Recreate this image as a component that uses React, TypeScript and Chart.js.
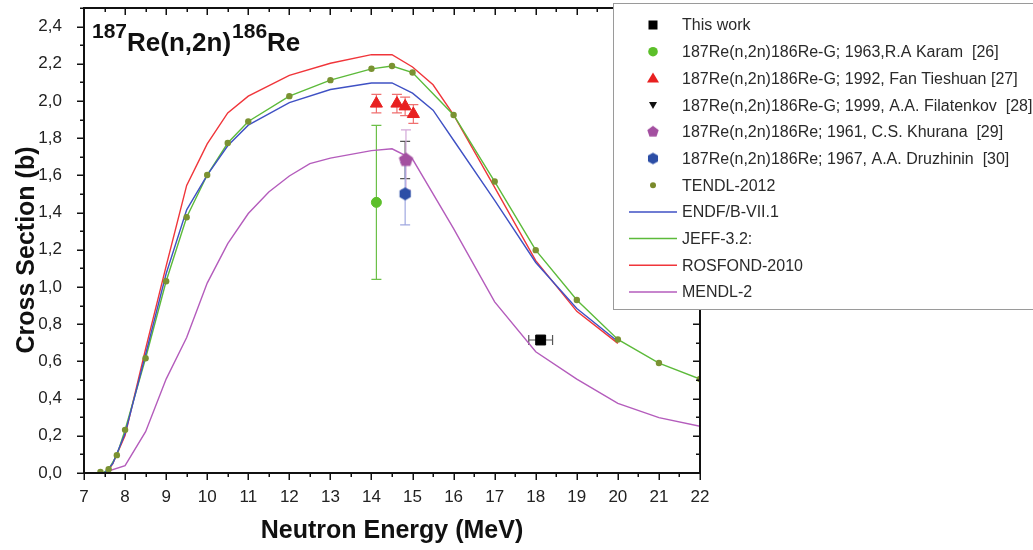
import React, { useEffect, useRef } from 'react';
import { Chart, registerables } from 'chart.js';

Chart.register(...registerables);

const FONT = '"Liberation Sans", Arial, Helvetica, sans-serif';

// ---- tick labels ----
const xTickValues = [7, 8, 9, 10, 11, 12, 13, 14, 15, 16, 17, 18, 19, 20, 21, 22];
const yTickValues = [0, 0.2, 0.4, 0.6, 0.8, 1.0, 1.2, 1.4, 1.6, 1.8, 2.0, 2.2, 2.4];

// ---- experimental data ----
const thisWorkE = [18.12];
const thisWorkXS = [0.715];
const thisWorkDE = [0.29];

const karamE = [14.12];
const karamXS = [1.455];
const karamErr = [0.414];

const fanE = [14.12, 14.62, 14.82, 15.02];
const fanXS = [1.986, 1.986, 1.971, 1.93];
const fanErr = [0.05, 0.05, 0.05, 0.05];

const filatE = [14.82];
const filatXS = [1.683];
const filatErr = [0.1];

const khuranaE = [14.84];
const khuranaXS = [1.683];
const khuranaErr = [0.162];

const druzE = [14.82];
const druzXS = [1.501];
const druzErr = [0.167];

// ---- evaluated libraries ----
const tendlE = [7.4, 7.6, 7.8, 8, 8.5, 9, 9.5, 10, 10.5, 11, 12, 13, 14, 14.5, 15, 16, 17, 18, 19, 20, 21, 22];
const tendlXS = [0.005, 0.02, 0.096, 0.232, 0.617, 1.031, 1.375, 1.602, 1.774, 1.89, 2.026, 2.112, 2.173, 2.188, 2.153, 1.925, 1.567, 1.198, 0.93, 0.718, 0.591, 0.505];

const endfE = [7.5, 7.7, 8, 8.5, 9, 9.5, 10, 10.5, 11, 12, 13, 14, 14.5, 15, 15.5, 16, 17, 18, 19, 20];
const endfXS = [0, 0.05, 0.212, 0.637, 1.071, 1.415, 1.602, 1.759, 1.87, 1.991, 2.062, 2.097, 2.097, 2.042, 1.951, 1.789, 1.466, 1.132, 0.884, 0.707];

const jeffE = [7.45, 7.6, 7.8, 8, 8.5, 9, 9.5, 10, 10.5, 11, 12, 13, 14, 14.5, 15, 16, 17, 18, 19, 20, 21, 22];
const jeffXS = [0, 0.02, 0.096, 0.232, 0.617, 1.031, 1.375, 1.602, 1.774, 1.89, 2.026, 2.112, 2.173, 2.188, 2.153, 1.925, 1.567, 1.198, 0.93, 0.718, 0.591, 0.505];

const rosfondE = [7.55, 7.7, 8, 8.5, 9, 9.5, 10, 10.5, 11, 12, 13, 14, 14.5, 15, 15.5, 16, 17, 18, 19, 20];
const rosfondXS = [0, 0.05, 0.202, 0.667, 1.112, 1.546, 1.769, 1.936, 2.026, 2.138, 2.203, 2.249, 2.249, 2.183, 2.087, 1.925, 1.536, 1.142, 0.869, 0.697];

const mendlE = [7.45, 8, 8.5, 9, 9.5, 10, 10.5, 11, 11.5, 12, 12.5, 13, 14, 14.5, 15, 16, 17, 18, 19, 20, 21, 22];
const mendlXS = [0, 0.04, 0.222, 0.505, 0.728, 1.021, 1.233, 1.395, 1.511, 1.597, 1.663, 1.693, 1.733, 1.743, 1.688, 1.314, 0.92, 0.652, 0.505, 0.374, 0.298, 0.251];

const pts = (xs: number[], ys: number[]) => xs.map((x, i) => ({ x, y: ys[i] }));

function polygonCanvas(sides: number, r: number, color: string) {
  const c = document.createElement('canvas');
  const s = Math.ceil(r * 2 + 2);
  c.width = s;
  c.height = s;
  const g = c.getContext('2d')!;
  g.fillStyle = color;
  g.beginPath();
  for (let i = 0; i < sides; i++) {
    const a = -Math.PI / 2 + (i * 2 * Math.PI) / sides;
    const px = s / 2 + r * Math.cos(a);
    const py = s / 2 + r * Math.sin(a);
    if (i === 0) g.moveTo(px, py);
    else g.lineTo(px, py);
  }
  g.closePath();
  g.fill();
  return c;
}

function drawLegendMarker(ctx: CanvasRenderingContext2D, kind: string, x: number, y: number, color: string, img?: HTMLCanvasElement) {
  ctx.fillStyle = color;
  ctx.strokeStyle = color;
  ctx.beginPath();
  if (kind === 'rect') {
    ctx.fillRect(x - 4.5, y - 4.5, 9, 9);
  } else if (kind === 'circle') {
    ctx.arc(x, y, 4.8, 0, Math.PI * 2);
    ctx.fill();
  } else if (kind === 'dot') {
    ctx.arc(x, y, 3, 0, Math.PI * 2);
    ctx.fill();
  } else if (kind === 'triangle') {
    ctx.moveTo(x, y - 6);
    ctx.lineTo(x + 6, y + 4);
    ctx.lineTo(x - 6, y + 4);
    ctx.closePath();
    ctx.fill();
  } else if (kind === 'invtriangle') {
    ctx.moveTo(x - 4, y - 3);
    ctx.lineTo(x + 4, y - 3);
    ctx.lineTo(x, y + 4);
    ctx.closePath();
    ctx.fill();
  } else if (kind === 'image' && img) {
    ctx.drawImage(img, x - img.width / 2, y - img.height / 2);
  } else if (kind === 'line') {
    ctx.lineWidth = 1.5;
    ctx.moveTo(629, y);
    ctx.lineTo(677, y);
    ctx.stroke();
  }
}

const errorBarPlugin = {
  id: 'errorBars',
  beforeDatasetsDraw(chart: any) {
    const ctx = chart.ctx;
    const xs = chart.scales.x;
    const ys = chart.scales.y;
    ctx.save();
    chart.data.datasets.forEach((ds: any) => {
      if (!ds.yErr && !ds.xErr) return;
      ctx.strokeStyle = ds.errColor;
      ctx.lineWidth = 1.2;
      ds.data.forEach((p: any, j: number) => {
        const px = xs.getPixelForValue(p.x);
        const py = ys.getPixelForValue(p.y);
        const cap = 5;
        if (ds.yErr) {
          const e = ds.yErr[j];
          const y1 = ys.getPixelForValue(p.y - e);
          const y2 = ys.getPixelForValue(p.y + e);
          ctx.beginPath();
          ctx.moveTo(px, y1);
          ctx.lineTo(px, y2);
          ctx.moveTo(px - cap, y1);
          ctx.lineTo(px + cap, y1);
          ctx.moveTo(px - cap, y2);
          ctx.lineTo(px + cap, y2);
          ctx.stroke();
        }
        if (ds.xErr) {
          const e = ds.xErr[j];
          const x1 = xs.getPixelForValue(p.x - e);
          const x2 = xs.getPixelForValue(p.x + e);
          ctx.beginPath();
          ctx.moveTo(x1, py);
          ctx.lineTo(x2, py);
          ctx.moveTo(x1, py - cap);
          ctx.lineTo(x1, py + cap);
          ctx.moveTo(x2, py - cap);
          ctx.lineTo(x2, py + cap);
          ctx.stroke();
        }
      });
    });
    ctx.restore();
  },
};

const framePlugin = {
  id: 'frameTicks',
  afterDatasetsDraw(chart: any) {
    const ctx = chart.ctx;
    const xs = chart.scales.x;
    const ys = chart.scales.y;
    const { left, right, top, bottom } = chart.chartArea;
    ctx.save();
    ctx.strokeStyle = '#111';
    ctx.lineWidth = 1.5;
    ctx.beginPath();
    for (let k = 0; k <= 30; k++) {
      const v = 7 + k * 0.5;
      const px = Math.round(xs.getPixelForValue(v)) + 0.25;
      const L = k % 2 === 0 ? 7 : 4;
      ctx.moveTo(px, bottom);
      ctx.lineTo(px, bottom + L);
      ctx.moveTo(px, top);
      ctx.lineTo(px, top + L);
    }
    for (let k = 0; k <= 25; k++) {
      const v = k * 0.1;
      const py = Math.round(ys.getPixelForValue(v)) + 0.25;
      const L = k % 2 === 0 ? 7 : 4;
      ctx.moveTo(left - L, py);
      ctx.lineTo(left, py);
      ctx.moveTo(right - L, py);
      ctx.lineTo(right, py);
    }
    ctx.stroke();
    ctx.lineWidth = 2;
    ctx.strokeRect(left, top, right - left, bottom - top);
    ctx.restore();
  },
};

const textPlugin = {
  id: 'texts',
  afterDraw(chart: any) {
    const ctx = chart.ctx;
    const { left, right, top } = chart.chartArea;
    ctx.save();
    ctx.fillStyle = '#111';
    // x title
    ctx.font = `bold 25px ${FONT}`;
    ctx.textAlign = 'center';
    ctx.textBaseline = 'middle';
    ctx.fillText('Neutron Energy (MeV)', (left + right) / 2, 531);
    // y title
    ctx.save();
    ctx.translate(27, 250);
    ctx.rotate(-Math.PI / 2);
    ctx.fillText('Cross Section (b)', 0, 0);
    ctx.restore();
    // reaction label
    ctx.textAlign = 'left';
    ctx.textBaseline = 'alphabetic';
    let x = left + 8;
    const parts: [string, boolean][] = [['187', true], ['Re(n,2n)', false], ['186', true], ['Re', false]];
    parts.forEach(([t, sup]) => {
      ctx.font = sup ? `bold 21px ${FONT}` : `bold 26px ${FONT}`;
      ctx.fillText(t, x, sup ? top + 30 : top + 43);
      x += ctx.measureText(t).width + (sup ? 0 : 1);
    });

    // legend box
    const lx = 613.5;
    const ly = 3.5;
    const lb = 309.5;
    ctx.fillStyle = '#ffffff';
    ctx.fillRect(lx, ly, 1040 - lx, lb - ly);
    ctx.strokeStyle = '#9a9a9a';
    ctx.lineWidth = 1;
    ctx.strokeRect(lx, ly, 1040 - lx, lb - ly);
    ctx.font = `16px ${FONT}`;
    ctx.textBaseline = 'middle';
    chart.data.datasets.forEach((ds: any, i: number) => {
      const y = 25 + i * 26.7;
      drawLegendMarker(ctx, ds.legendKind, 653, y, ds.legendColor, ds.legendImg);
      ctx.fillStyle = '#2a2a2a';
      ctx.fillText(ds.label, 682, y + 1);
    });
    ctx.restore();
  },
};

export default function App() {
  const ref = useRef<HTMLCanvasElement | null>(null);

  useEffect(() => {
    if (!ref.current) return;
    const pentagon = polygonCanvas(5, 7.5, '#a34fa0');
    const hexagon = polygonCanvas(6, 6.5, '#2c4ea6');
    const pentagonL = polygonCanvas(5, 6, '#a34fa0');
    const hexagonL = polygonCanvas(6, 5.8, '#2c4ea6');

    const lineDs = (label: string, xs: number[], ys: number[], color: string) => ({
      label,
      data: pts(xs, ys),
      showLine: true,
      borderColor: color,
      backgroundColor: color,
      borderWidth: 1.4,
      pointRadius: 0,
      tension: 0,
      legendKind: 'line',
      legendColor: color,
    });

    const chart = new Chart(ref.current, {
      type: 'scatter',
      data: {
        datasets: [
          {
            label: 'This work',
            data: pts(thisWorkE, thisWorkXS),
            pointStyle: 'rect',
            pointRadius: 7,
            backgroundColor: '#000',
            borderColor: '#000',
            xErr: thisWorkDE,
            errColor: '#555',
            legendKind: 'rect',
            legendColor: '#000',
          } as any,
          {
            label: '187Re(n,2n)186Re-G; 1963,R.A Karam  [26]',
            data: pts(karamE, karamXS),
            pointStyle: 'circle',
            pointRadius: 5,
            backgroundColor: '#5cbf2a',
            borderColor: '#5cbf2a',
            yErr: karamErr,
            errColor: '#6cc048',
            legendKind: 'circle',
            legendColor: '#5cbf2a',
          },
          {
            label: '187Re(n,2n)186Re-G; 1992, Fan Tieshuan [27]',
            data: pts(fanE, fanXS),
            pointStyle: 'triangle',
            pointRadius: 7,
            backgroundColor: '#e82020',
            borderColor: '#e82020',
            yErr: fanErr,
            errColor: '#f07070',
            legendKind: 'triangle',
            legendColor: '#e82020',
          },
          {
            label: '187Re(n,2n)186Re-G; 1999, A.A. Filatenkov  [28]',
            data: pts(filatE, filatXS),
            pointStyle: 'triangle',
            rotation: 180,
            pointRadius: 5,
            backgroundColor: '#111',
            borderColor: '#111',
            yErr: filatErr,
            errColor: '#555',
            legendKind: 'invtriangle',
            legendColor: '#111',
            order: 1,
          },
          {
            label: '187Re(n,2n)186Re; 1961, C.S. Khurana  [29]',
            data: pts(khuranaE, khuranaXS),
            pointStyle: pentagon,
            pointRadius: 7,
            backgroundColor: '#a34fa0',
            borderColor: '#a34fa0',
            yErr: khuranaErr,
            errColor: '#d3a8d8',
            legendKind: 'image',
            legendImg: pentagonL,
            legendColor: '#a34fa0',
          },
          {
            label: '187Re(n,2n)186Re; 1967, A.A. Druzhinin  [30]',
            data: pts(druzE, druzXS),
            pointStyle: hexagon,
            pointRadius: 7,
            backgroundColor: '#2c4ea6',
            borderColor: '#2c4ea6',
            yErr: druzErr,
            errColor: '#a0a8e0',
            legendKind: 'image',
            legendImg: hexagonL,
            legendColor: '#2c4ea6',
          },
          {
            label: 'TENDL-2012',
            data: pts(tendlE, tendlXS),
            pointStyle: 'circle',
            pointRadius: 3.2,
            backgroundColor: '#7a9232',
            borderColor: '#7a9232',
            borderWidth: 0,
            legendKind: 'dot',
            legendColor: '#7a8a2a',
          },
          lineDs('ENDF/B-VII.1', endfE, endfXS, '#3f51c4'),
          lineDs('JEFF-3.2:', jeffE, jeffXS, '#5cba3a'),
          lineDs('ROSFOND-2010', rosfondE, rosfondXS, '#f0353a'),
          lineDs('MENDL-2', mendlE, mendlXS, '#b45cbc'),
        ] as any,
      },
      options: {
        animation: false,
        responsive: false,
        maintainAspectRatio: false,
        events: [],
        layout: { padding: { top: 4, right: 333, left: 0, bottom: 0 } },
        plugins: {
          legend: { display: false },
          tooltip: { enabled: false },
        },
        scales: {
          x: {
            type: 'linear',
            min: 7,
            max: 22,
            grid: { display: false },
            border: { display: false },
            afterBuildTicks: (scale: any) => {
              scale.ticks = xTickValues.map((v) => ({ value: v }));
            },
            afterFit: (scale: any) => {
              scale.height = 77;
              scale.paddingLeft = 0;
              scale.paddingRight = 0;
            },
            ticks: {
              font: { family: FONT, size: 17 },
              color: '#222',
              padding: 6,
              maxRotation: 0,
              autoSkip: false,
              callback: (v: any) => String(v),
            },
          },
          y: {
            type: 'linear',
            min: 0,
            max: 2.5,
            grid: { display: false },
            border: { display: false },
            afterBuildTicks: (scale: any) => {
              scale.ticks = yTickValues.map((v) => ({ value: v }));
            },
            afterFit: (scale: any) => {
              scale.width = 84;
              scale.paddingTop = 0;
              scale.paddingBottom = 0;
            },
            ticks: {
              font: { family: FONT, size: 17 },
              color: '#222',
              padding: 14,
              autoSkip: false,
              callback: (v: any) => Number(v).toFixed(1).replace('.', ','),
            },
          },
        },
      } as any,
      plugins: [errorBarPlugin, framePlugin, textPlugin],
    });
    return () => chart.destroy();
  }, []);

  return (
    <div style={{ position: 'fixed', left: 0, top: 0, width: 1033, height: 550, background: '#fff' }}>
      <canvas ref={ref} width={1033} height={550} style={{ width: 1033, height: 550, display: 'block' }} />
    </div>
  );
}
